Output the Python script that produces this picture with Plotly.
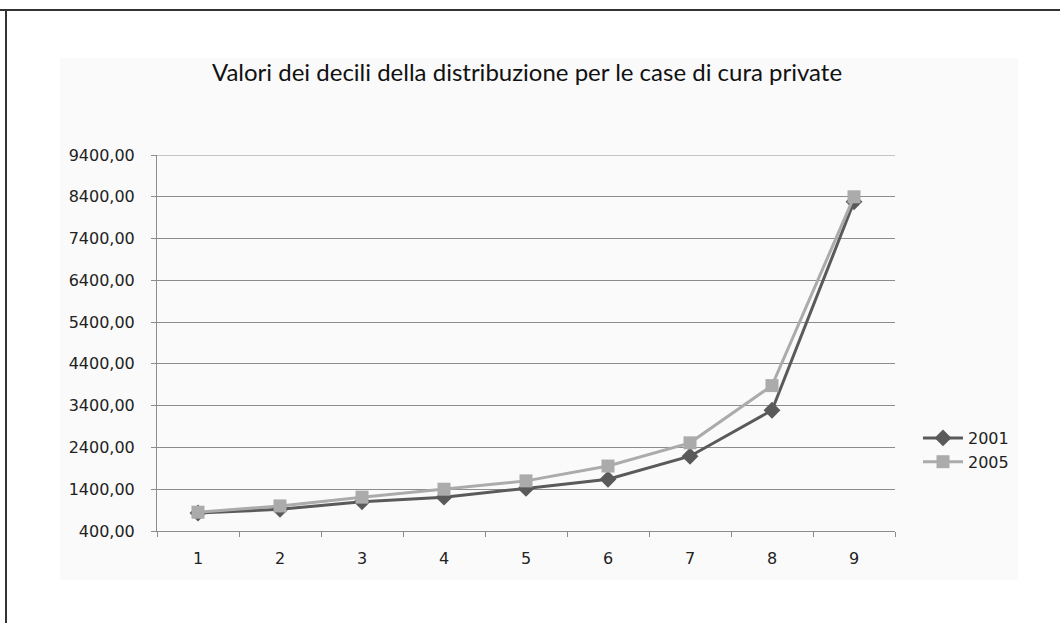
import plotly.graph_objects as go

# Decile values for private care homes
decili = ["1", "2", "3", "4", "5", "6", "7", "8", "9"]
valori_2001 = [830, 920, 1100, 1210, 1420, 1640, 2190, 3290, 8280]
valori_2005 = [850, 1000, 1210, 1400, 1600, 1955, 2510, 3880, 8400]
y_ticks = [400, 1400, 2400, 3400, 4400, 5400, 6400, 7400, 8400, 9400]

W, H = 1060, 623
L, R, T, B = 157, 165, 155, 92
pw, ph = W - L - R, H - T - B


def px_x(x):
    return (x - L) / pw


def px_y(y):
    return (H - B - y) / ph


fig = go.Figure()
fig.add_trace(go.Scatter(
    x=decili, y=valori_2001, name="2001", mode="lines+markers",
    line=dict(color="#5a5a5a", width=3),
    marker=dict(symbol="diamond", size=13, color="#5a5a5a"),
))
fig.add_trace(go.Scatter(
    x=decili, y=valori_2005, name="2005", mode="lines+markers",
    line=dict(color="#ababab", width=3),
    marker=dict(symbol="square", size=13, color="#ababab"),
))

grid = "#8c8c8c"
font = "DejaVu Sans"

fig.update_layout(
    width=W, height=H,
    margin=dict(l=L, r=R, t=T, b=B, autoexpand=False),
    paper_bgcolor="white",
    plot_bgcolor="rgba(0,0,0,0)",
    separators=",.",
    font=dict(family=font, size=16, color="#222222"),
    title=dict(
        text="Valori dei decili della distribuzione per le case di cura private",
        x=px_x(527), xref="paper", xanchor="center",
        y=1 - 73 / H, yref="container", yanchor="middle",
        font=dict(family="Lato", size=24, color="#111111"),
    ),
    xaxis=dict(
        type="category", range=[-0.5, 8.5], tickson="boundaries",
        ticks="outside", ticklen=5, tickcolor=grid,
        showline=True, linecolor=grid, linewidth=1,
        showgrid=False, ticklabelstandoff=13,
    ),
    yaxis=dict(
        range=[400, 9400], tickvals=y_ticks, tickformat=".2f",
        ticks="outside", ticklen=5, tickcolor=grid,
        showline=True, linecolor=grid, linewidth=1,
        showgrid=True, gridcolor=grid, gridwidth=1,
        zeroline=False, ticklabelstandoff=13,
    ),
    legend=dict(
        x=px_x(918), y=px_y(450), xanchor="left", yanchor="middle",
        bgcolor="rgba(0,0,0,0)", itemwidth=40,
        font=dict(family=font, size=16, color="#222222"),
        tracegroupgap=0,
    ),
    shapes=[
        # faint chart-area panel
        dict(type="rect", xref="paper", yref="paper", layer="below",
             x0=px_x(60), x1=px_x(1018), y0=px_y(580), y1=px_y(58),
             fillcolor="#fafafa", line=dict(width=0)),
        # top gridline at the upper end of the value axis
        dict(type="line", xref="paper", yref="y", layer="below",
             x0=0, x1=1, y0=y_ticks[-1], y1=y_ticks[-1],
             line=dict(color=grid, width=1)),
        # outer frame (top and left edges)
        dict(type="line", xref="paper", yref="paper",
             x0=px_x(0), x1=px_x(1060), y0=px_y(10), y1=px_y(10),
             line=dict(color="#333333", width=2)),
        dict(type="line", xref="paper", yref="paper",
             x0=px_x(6), x1=px_x(6), y0=px_y(10), y1=px_y(623),
             line=dict(color="#333333", width=2)),
    ],
)

fig.write_html("out.html")
